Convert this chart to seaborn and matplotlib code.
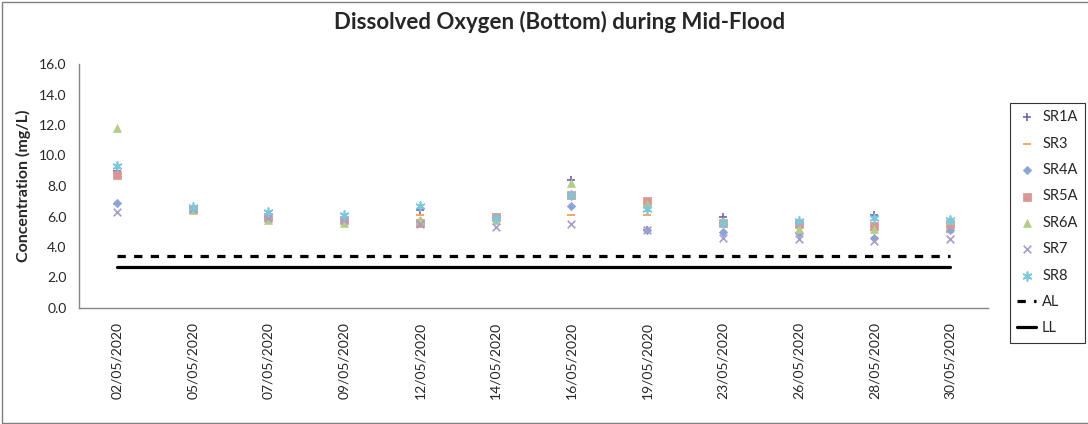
import matplotlib
matplotlib.use('Agg')
from matplotlib import pyplot as plt
from matplotlib.patches import Rectangle
from matplotlib.transforms import ScaledTranslation
import numpy as np
import seaborn as sns

dates = ['02/05/2020', '05/05/2020', '07/05/2020', '09/05/2020', '12/05/2020', '14/05/2020',
         '16/05/2020', '19/05/2020', '23/05/2020', '26/05/2020', '28/05/2020', '30/05/2020']

sr1a = [9.0, 6.5, 5.9, 5.9, 6.4, 6.0, 8.4, 5.1, 6.0, 5.6, 6.1, 5.6]
sr3 = [6.8, 6.5, 6.0, 6.0, 6.1, 6.0, 6.1, 6.1, 5.6, 4.9, 5.1, 5.0]
sr4a = [6.9, 6.5, 5.9, 5.8, 5.7, 6.0, 6.7, 5.1, 5.0, 4.9, 4.6, 5.1]
sr5a = [8.7, 6.5, 6.0, 5.8, 5.6, 6.0, 7.4, 7.0, 5.6, 5.5, 5.4, 5.5]
sr6a = [11.8, 6.4, 5.8, 5.6, 5.8, 5.8, 8.2, 6.8, 5.7, 5.2, 5.2, 5.8]
sr7 = [6.3, 6.5, 5.9, 5.8, 5.5, 5.3, 5.5, 5.1, 4.6, 4.5, 4.4, 4.5]
sr8 = [9.3, 6.6, 6.3, 6.1, 6.7, 5.9, 7.4, 6.5, 5.6, 5.7, 5.9, 5.8]

al_level = 3.4
ll_level = 2.7

series = [
    # name, values, marker, colour, size
    ('SR1A', sr1a, '+', '#7262AA', 36),
    ('SR3', sr3, '_', '#F79646', 36),
    ('SR4A', sr4a, 'D', '#8AA5D3', 18),
    ('SR5A', sr5a, 's', '#D99694', 32),
    ('SR6A', sr6a, '^', '#B3CC88', 32),
    ('SR7', sr7, 'x', '#A99BC9', 30),
    ('SR8', sr8, (6, 2, 0), '#7DC6DC', 40),
]

sns.set_style('white')
plt.rcParams['font.family'] = ['Lato', 'DejaVu Sans']

W, H = 1088, 424
fig = plt.figure(figsize=(W / 100, H / 100), dpi=100)
ax = fig.add_axes([79 / W, 1 - 308 / H, 909 / W, 244 / H])

for name, vals, marker, color, size in series:
    filled = marker in ('D', 's', '^')
    sns.scatterplot(x=dates, y=vals, marker=marker, color=color, s=size,
                    edgecolor=color if filled else None,
                    linewidth=0.5 if filled else 1.2, label=name, ax=ax, zorder=3)

sns.lineplot(x=dates, y=[al_level] * len(dates), sort=False, color='black', lw=2.3,
             ax=ax, label='AL', linestyle=(0, (2.6, 2.6)), zorder=2)
sns.lineplot(x=dates, y=[ll_level] * len(dates), sort=False, color='black', lw=2.3,
             ax=ax, label='LL', zorder=2)

ax.set_xlim(-0.5, len(dates) - 0.5)
ax.set_ylim(0, 16)
ax.set_yticks(np.arange(0, 16.1, 2))
ax.set_yticklabels([f'{v:.1f}' for v in np.arange(0, 16.1, 2)], fontsize=10)
ax.set_xticks(range(len(dates)))
ax.set_xticklabels(dates, rotation=90, fontsize=10)
shift = ScaledTranslation(-10 / 100, 0, fig.dpi_scale_trans)
for lbl in ax.get_xticklabels():
    lbl.set_transform(lbl.get_transform() + shift)
ax.set_xticks(np.arange(-0.5, len(dates), 1), minor=True)
ax.tick_params(axis='x', which='major', length=0, pad=10)
ax.tick_params(axis='x', which='minor', length=5, color='#868686', width=1)
ax.tick_params(axis='y', length=5, color='#868686', width=1, pad=4)
ax.set_xlabel('')
ax.set_ylabel('Concentration (mg/L)', fontsize=11.5, fontweight='bold', labelpad=6)
for side in ['top', 'right']:
    ax.spines[side].set_visible(False)
for side in ['left', 'bottom']:
    ax.spines[side].set_color('#868686')
    ax.spines[side].set_linewidth(1)

handles, labels = ax.get_legend_handles_labels()
leg = fig.legend(handles, labels, loc='upper left', bbox_to_anchor=(1010 / W, 1 - 103 / H),
                 fontsize=10.5, frameon=True, fancybox=False, edgecolor='black',
                 labelspacing=0.85, handlelength=1.3, handletextpad=0.4,
                 borderpad=0.5, borderaxespad=0)
leg.get_frame().set_linewidth(0.8)
if ax.get_legend() is not None:
    ax.get_legend().remove()

fig.text(560 / W, 1 - 22 / H, 'Dissolved Oxygen (Bottom) during Mid-Flood',
         ha='center', va='center', fontsize=16, fontweight='bold')

fig.patches.append(Rectangle((2 / W, 1 / H), 1.2, 1 - 3 / H, transform=fig.transFigure,
                             fill=False, edgecolor='#7F7F7F', lw=1))

fig.savefig('out.png', dpi=100)
